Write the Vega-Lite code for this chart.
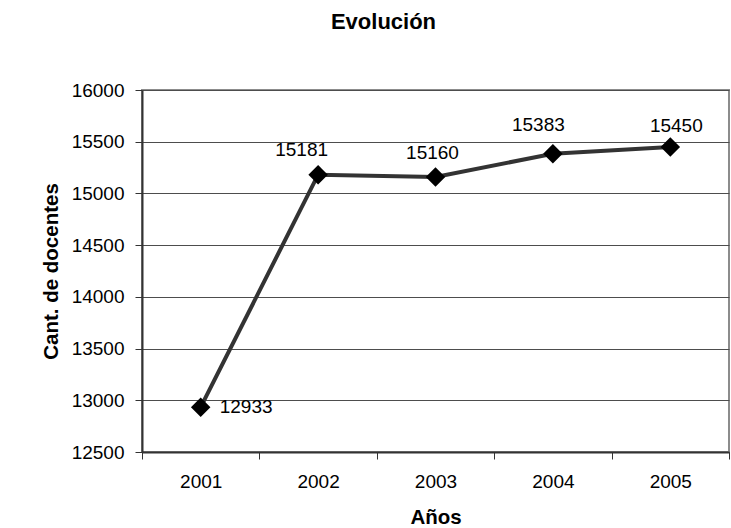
{
  "$schema": "https://vega.github.io/schema/vega-lite/v6.json",
  "width": 587,
  "height": 362,
  "autosize": {"type": "none"},
  "padding": {"left": 142, "top": 90, "right": 2, "bottom": 76},
  "background": "white",
  "title": {
    "text": "Evolución",
    "font": "Liberation Sans",
    "fontSize": 22,
    "fontWeight": "bold",
    "color": "black",
    "anchor": "middle",
    "frame": "group",
    "dx": -52,
    "baseline": "alphabetic",
    "offset": 30
  },
  "config": {
    "font": "Liberation Sans",
    "view": {"stroke": "#8c8c8c", "strokeWidth": 2},
    "axis": {
      "labelFont": "Liberation Sans",
      "labelFontSize": 19,
      "labelColor": "black",
      "titleFont": "Liberation Sans",
      "titleFontSize": 20.5,
      "titleFontWeight": "bold",
      "titleColor": "black",
      "domainColor": "#333333",
      "domainWidth": 2,
      "tickColor": "#333333",
      "tickWidth": 1,
      "tickSize": 7
    }
  },
  "data": {
    "values": [
      {"year": "2001", "value": 12933},
      {"year": "2002", "value": 15181},
      {"year": "2003", "value": 15160},
      {"year": "2004", "value": 15383},
      {"year": "2005", "value": 15450}
    ]
  },
  "encoding": {
    "x": {
      "field": "year",
      "type": "ordinal",
      "scale": {"type": "band", "paddingInner": 0, "paddingOuter": 0},
      "axis": {
        "title": "Años",
        "labelAngle": 0,
        "labelPadding": 13,
        "tickBand": "extent",
        "grid": false,
        "titleY": 65,
        "titleBaseline": "middle"
      }
    },
    "y": {
      "field": "value",
      "type": "quantitative",
      "scale": {"domain": [12500, 16000], "nice": false, "zero": false},
      "axis": {
        "title": "Cant. de docentes",
        "values": [12500, 13000, 13500, 14000, 14500, 15000, 15500, 16000],
        "format": "d",
        "labelPadding": 11,
        "grid": true,
        "gridColor": "#4d4d4d",
        "gridWidth": 1,
        "titleX": -91,
        "titleY": 181,
        "titleBaseline": "middle"
      }
    }
  },
  "layer": [
    {"mark": {"type": "line", "color": "#333333", "strokeWidth": 4}},
    {"mark": {"type": "point", "shape": "diamond", "filled": true, "color": "black", "opacity": 1, "size": 380}},
    {
      "transform": [{"filter": "datum.year == '2001'"}],
      "mark": {"type": "text", "align": "left", "baseline": "alphabetic", "dx": 19, "dy": 6, "fontSize": 19, "color": "black"},
      "encoding": {"text": {"field": "value", "type": "quantitative", "format": "d"}}
    },
    {
      "transform": [{"filter": "datum.year == '2002'"}],
      "mark": {"type": "text", "align": "center", "baseline": "alphabetic", "dx": -16.5, "dy": -18.7, "fontSize": 19, "color": "black"},
      "encoding": {"text": {"field": "value", "type": "quantitative", "format": "d"}}
    },
    {
      "transform": [{"filter": "datum.year == '2003'"}],
      "mark": {"type": "text", "align": "center", "baseline": "alphabetic", "dx": -3, "dy": -18, "fontSize": 19, "color": "black"},
      "encoding": {"text": {"field": "value", "type": "quantitative", "format": "d"}}
    },
    {
      "transform": [{"filter": "datum.year == '2004'"}],
      "mark": {"type": "text", "align": "center", "baseline": "alphabetic", "dx": -14.5, "dy": -22.5, "fontSize": 19, "color": "black"},
      "encoding": {"text": {"field": "value", "type": "quantitative", "format": "d"}}
    },
    {
      "transform": [{"filter": "datum.year == '2005'"}],
      "mark": {"type": "text", "align": "center", "baseline": "alphabetic", "dx": 6, "dy": -15, "fontSize": 19, "color": "black"},
      "encoding": {"text": {"field": "value", "type": "quantitative", "format": "d"}}
    }
  ]
}
